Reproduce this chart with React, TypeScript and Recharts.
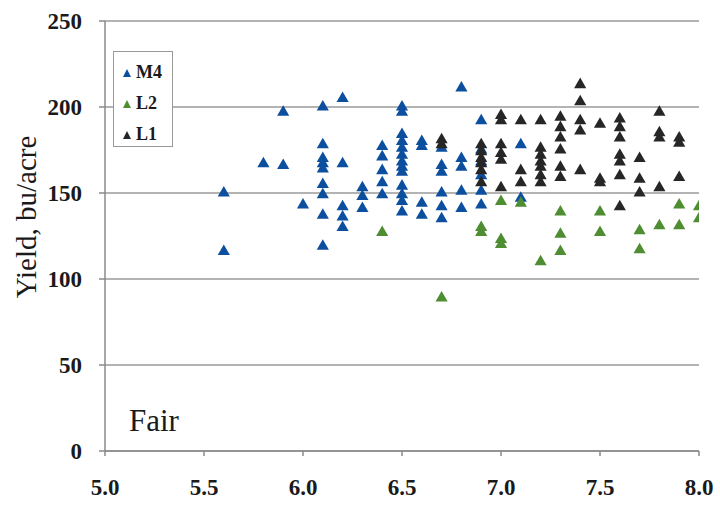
import { ScatterChart, Scatter, XAxis, YAxis, ZAxis, CartesianGrid, Legend, Label } from "recharts";

const xTicks = [5.0, 5.5, 6.0, 6.5, 7.0, 7.5, 8.0];
const yTicks = [0, 50, 100, 150, 200, 250];
const seriesOrder = ["M4", "L2", "L1"];

const m4 = [
  { x: 5.6, y: 150 }, { x: 5.6, y: 116 },
  { x: 5.8, y: 167 },
  { x: 5.9, y: 197 }, { x: 5.9, y: 166 },
  { x: 6.0, y: 143 },
  { x: 6.1, y: 200 }, { x: 6.1, y: 178 }, { x: 6.1, y: 170 }, { x: 6.1, y: 167 }, { x: 6.1, y: 164 },
  { x: 6.1, y: 155 }, { x: 6.1, y: 149 }, { x: 6.1, y: 137 }, { x: 6.1, y: 119 },
  { x: 6.2, y: 205 }, { x: 6.2, y: 167 }, { x: 6.2, y: 142 }, { x: 6.2, y: 136 }, { x: 6.2, y: 130 },
  { x: 6.3, y: 153 }, { x: 6.3, y: 148 }, { x: 6.3, y: 141 },
  { x: 6.4, y: 177 }, { x: 6.4, y: 171 }, { x: 6.4, y: 163 }, { x: 6.4, y: 156 }, { x: 6.4, y: 149 },
  { x: 6.5, y: 200 }, { x: 6.5, y: 197 }, { x: 6.5, y: 184 }, { x: 6.5, y: 180 }, { x: 6.5, y: 176 },
  { x: 6.5, y: 172 }, { x: 6.5, y: 168 }, { x: 6.5, y: 165 }, { x: 6.5, y: 162 }, { x: 6.5, y: 154 },
  { x: 6.5, y: 149 }, { x: 6.5, y: 145 }, { x: 6.5, y: 139 },
  { x: 6.6, y: 180 }, { x: 6.6, y: 177 }, { x: 6.6, y: 144 }, { x: 6.6, y: 137 },
  { x: 6.7, y: 176 }, { x: 6.7, y: 166 }, { x: 6.7, y: 162 }, { x: 6.7, y: 150 }, { x: 6.7, y: 142 }, { x: 6.7, y: 135 },
  { x: 6.8, y: 211 }, { x: 6.8, y: 170 }, { x: 6.8, y: 165 }, { x: 6.8, y: 151 }, { x: 6.8, y: 141 },
  { x: 6.9, y: 192 }, { x: 6.9, y: 175 }, { x: 6.9, y: 168 }, { x: 6.9, y: 160 }, { x: 6.9, y: 151 }, { x: 6.9, y: 143 },
  { x: 7.1, y: 178 }, { x: 7.1, y: 147 },
];

const l2 = [
  { x: 6.4, y: 127 },
  { x: 6.7, y: 89 },
  { x: 6.9, y: 130 }, { x: 6.9, y: 127 },
  { x: 7.0, y: 145 }, { x: 7.0, y: 123 }, { x: 7.0, y: 120 },
  { x: 7.1, y: 144 },
  { x: 7.2, y: 110 },
  { x: 7.3, y: 139 }, { x: 7.3, y: 126 }, { x: 7.3, y: 116 },
  { x: 7.5, y: 139 }, { x: 7.5, y: 127 },
  { x: 7.7, y: 128 }, { x: 7.7, y: 117 },
  { x: 7.8, y: 131 },
  { x: 7.9, y: 143 }, { x: 7.9, y: 131 },
  { x: 8.0, y: 142 }, { x: 8.0, y: 135 },
];

const l1 = [
  { x: 6.7, y: 181 }, { x: 6.7, y: 178 },
  { x: 6.9, y: 178 }, { x: 6.9, y: 174 }, { x: 6.9, y: 170 }, { x: 6.9, y: 167 }, { x: 6.9, y: 163 }, { x: 6.9, y: 156 },
  { x: 7.0, y: 195 }, { x: 7.0, y: 192 }, { x: 7.0, y: 178 }, { x: 7.0, y: 173 }, { x: 7.0, y: 169 }, { x: 7.0, y: 153 },
  { x: 7.1, y: 192 }, { x: 7.1, y: 163 }, { x: 7.1, y: 156 },
  { x: 7.2, y: 192 }, { x: 7.2, y: 176 }, { x: 7.2, y: 172 }, { x: 7.2, y: 168 }, { x: 7.2, y: 165 }, { x: 7.2, y: 160 }, { x: 7.2, y: 156 },
  { x: 7.3, y: 194 }, { x: 7.3, y: 188 }, { x: 7.3, y: 182 }, { x: 7.3, y: 175 }, { x: 7.3, y: 165 }, { x: 7.3, y: 159 },
  { x: 7.4, y: 213 }, { x: 7.4, y: 203 }, { x: 7.4, y: 192 }, { x: 7.4, y: 186 }, { x: 7.4, y: 163 },
  { x: 7.5, y: 190 }, { x: 7.5, y: 158 }, { x: 7.5, y: 156 },
  { x: 7.6, y: 193 }, { x: 7.6, y: 188 }, { x: 7.6, y: 182 }, { x: 7.6, y: 172 }, { x: 7.6, y: 168 }, { x: 7.6, y: 160 }, { x: 7.6, y: 142 },
  { x: 7.7, y: 170 }, { x: 7.7, y: 158 }, { x: 7.7, y: 150 },
  { x: 7.8, y: 197 }, { x: 7.8, y: 185 }, { x: 7.8, y: 182 }, { x: 7.8, y: 153 },
  { x: 7.9, y: 182 }, { x: 7.9, y: 179 }, { x: 7.9, y: 159 },
];

const serif = "'Liberation Serif', 'Times New Roman', serif";
const tickStyle = { fontFamily: serif, fontSize: 23, fontWeight: 700, fill: "#1a1a1a" };

function LegendBox({ payload }: any) {
  const items = [...(payload || [])].sort(
    (a: any, b: any) => seriesOrder.indexOf(a.value) - seriesOrder.indexOf(b.value)
  );
  return (
    <div
      style={{
        border: "1px solid #999",
        width: 60,
        height: 96,
        boxSizing: "border-box",
        padding: "5px 0 0 8px",
        background: "white",
        fontFamily: serif,
        fontWeight: 700,
        fontSize: 18,
        color: "#1a1a1a",
        textAlign: "left",
      }}
    >
      {items.map((p: any) => (
        <div key={p.value} style={{ display: "flex", alignItems: "center", height: 31 }}>
          <svg width={10} height={10} style={{ marginRight: 4 }}>
            <polygon points="5,1 9,9 1,9" fill={p.color} />
          </svg>
          <span>{p.value}</span>
        </div>
      ))}
    </div>
  );
}

export default function App() {
  return (
    <div style={{ position: "absolute", left: 0, top: 0, width: 720, height: 508, background: "white" }}>
      <ScatterChart width={720} height={508} margin={{ top: 21, right: 21, bottom: 0, left: 0 }}>
        <CartesianGrid vertical={false} stroke="#9a9a9a" strokeWidth={1.5} />
        <XAxis
          type="number"
          dataKey="x"
          domain={[5, 8]}
          ticks={xTicks}
          tickFormatter={(v: number) => v.toFixed(1)}
          height={57}
          tickSize={5}
          tickMargin={23}
          tick={tickStyle}
          stroke="#8a8a8a"
          strokeWidth={1.5}
          allowDataOverflow
        />
        <YAxis
          type="number"
          dataKey="y"
          domain={[0, 250]}
          ticks={yTicks}
          width={105}
          tickSize={6}
          tickMargin={17}
          tick={tickStyle}
          stroke="#8a8a8a"
          strokeWidth={1.5}
        >
          <Label
            content={() => (
              <text
                x={26}
                y={217}
                transform="rotate(-90 26 217)"
                textAnchor="middle"
                dominantBaseline="central"
                style={{ fontFamily: serif, fontSize: 29, fill: "#1a1a1a" }}
              >
                Yield, bu/acre
              </text>
            )}
          />
        </YAxis>
        <ZAxis range={[50, 50]} />
        <Legend
          content={<LegendBox />}
          layout="vertical"
          verticalAlign="middle"
          align="center"
          wrapperStyle={{ position: "absolute", left: 113, top: 51, width: 60 }}
        />
        <Scatter name="M4" data={m4} fill="#0b4f9e" shape="triangle" legendType="triangle" isAnimationActive={false} />
        <Scatter name="L2" data={l2} fill="#4f8d32" shape="triangle" legendType="triangle" isAnimationActive={false} />
        <Scatter name="L1" data={l1} fill="#262626" shape="triangle" legendType="triangle" isAnimationActive={false} />
      </ScatterChart>
      <div
        style={{
          position: "absolute",
          left: 129,
          top: 403,
          fontFamily: serif,
          fontSize: 31,
          color: "#1a1a1a",
        }}
      >
        Fair
      </div>
    </div>
  );
}
